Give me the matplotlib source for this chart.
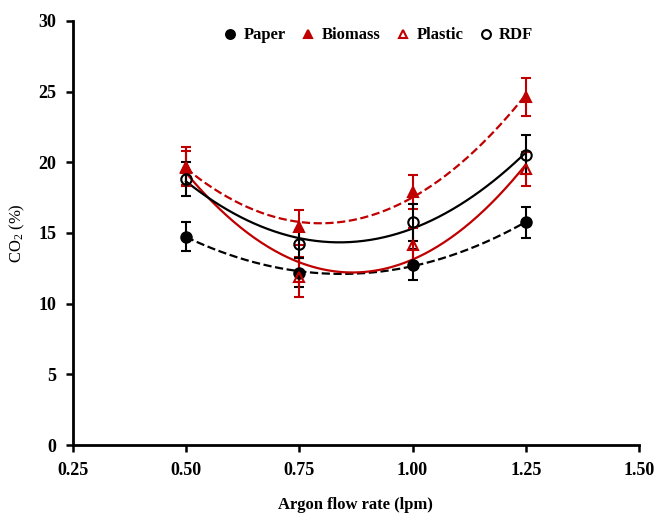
import numpy as np
import matplotlib
matplotlib.use('Agg')
from matplotlib import pyplot as plt

# data
flow        = [0.50, 0.75, 1.00, 1.25]
paper       = [14.75, 12.2, 12.75, 15.75]
paper_err   = [1.05, 1.0, 1.1, 1.1]
biomass     = [19.7, 15.4, 17.9, 24.65]
biomass_err = [1.35, 1.25, 1.2, 1.35]
plastic     = [19.6, 11.9, 14.15, 19.5]
plastic_err = [1.2, 1.4, 1.2, 1.2]
rdf         = [18.8, 14.2, 15.75, 20.55]
rdf_err     = [1.2, 1.0, 1.3, 1.35]

red = '#C00000'

plt.rcParams['font.family'] = ['Liberation Serif', 'DejaVu Serif']
plt.rcParams['font.weight'] = 'bold'
plt.rcParams['mathtext.fontset'] = 'custom'
plt.rcParams['mathtext.rm'] = 'Liberation Serif'

fig = plt.figure(figsize=(6.57, 5.18), dpi=100)
ax  = fig.add_axes([0.1107, 0.1409, 0.862, 0.8186])

series = [
    ('Paper',   paper,   paper_err,   'o', 'k', 'k',    '--'),
    ('Biomass', biomass, biomass_err, '^', red, red,    '--'),
    ('Plastic', plastic, plastic_err, '^', red, 'none', '-'),
    ('RDF',     rdf,     rdf_err,     'o', 'k', 'none', '-'),
]

xs = np.linspace(0.5, 1.25, 200)
for name, y, e, m, c, fc, ls in series:
    # 2nd order polynomial trend line
    p = np.polyfit(flow, y, 2)
    ax.plot(xs, np.polyval(p, xs), color=c, ls=ls, lw=1.6, zorder=2)
    ax.errorbar(flow, y, yerr=e, fmt=m, color=c, mfc=fc, mec=c, ms=7.5,
                mew=1.5, elinewidth=1.5, capsize=3.5, capthick=1.5,
                label=name, zorder=3)

ax.set_xlim(0.25, 1.50)
ax.set_ylim(0, 30)
ax.set_xticks([0.25, 0.50, 0.75, 1.00, 1.25, 1.50])
ax.set_xticklabels(['0.25', '0.50', '0.75', '1.00', '1.25', '1.50'])
ax.set_yticks([0, 5, 10, 15, 20, 25, 30])
ax.tick_params(direction='out', width=1.8, length=5, labelsize=13, pad=7)
for lab in ax.get_xticklabels() + ax.get_yticklabels():
    lab.set_fontweight('bold')

for s in ['top', 'right']:
    ax.spines[s].set_visible(False)
for s in ['left', 'bottom']:
    ax.spines[s].set_linewidth(2)

ax.set_xlabel('Argon flow rate (lpm)', fontsize=12, fontweight='bold', labelpad=13)
ax.set_ylabel(r'$\mathregular{CO_2}$ (%)', fontsize=12, fontweight='normal', labelpad=8)

handles, labels = ax.get_legend_handles_labels()
handles = [h[0] for h in handles]
leg = ax.legend(handles, labels, loc='upper center', bbox_to_anchor=(0.535, 1.02),
                ncol=4, frameon=False, fontsize=12, handletextpad=0.05,
                columnspacing=0.6, handlelength=1.5, markerscale=0.85)

fig.savefig('out.png', dpi=100)
